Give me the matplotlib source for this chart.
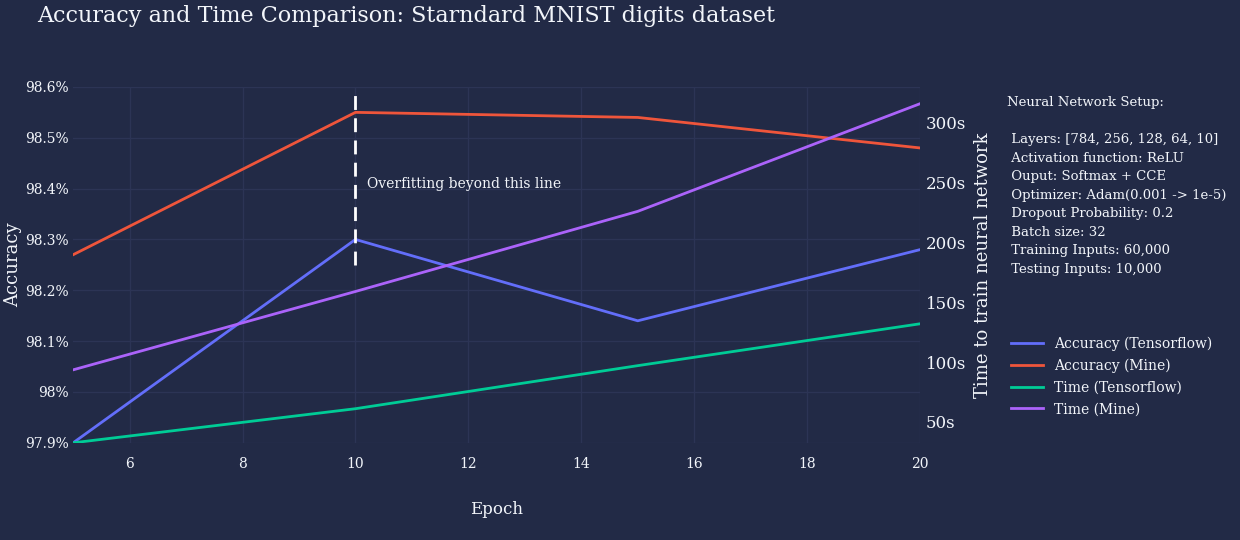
import matplotlib.pyplot as plt

epochs = [5, 10, 15, 20]
acc_tf = [97.90, 98.30, 98.14, 98.28]
acc_mine = [98.27, 98.55, 98.54, 98.48]
time_tf = [32.5, 61, 97, 132]
time_mine = [93.5, 159, 226, 316]

bg = '#222a46'
grid = '#2c3455'
txt = '#f2f5fa'
c1, c2, c3, c4 = '#636efa', '#ef553b', '#00cc96', '#ab63fa'
plt.rcParams['font.family'] = ['DejaVu Serif']

fig = plt.figure(figsize=(12.4, 5.4), dpi=100, facecolor=bg)
ax = fig.add_axes([0.059, 0.18, 0.683, 0.659], facecolor=bg)
ax2 = ax.twinx()

l1, = ax.plot(epochs, acc_tf, color=c1, lw=2)
l2, = ax.plot(epochs, acc_mine, color=c2, lw=2)
l3, = ax2.plot(epochs, time_tf, color=c3, lw=2)
l4, = ax2.plot(epochs, time_mine, color=c4, lw=2)

ax.set_xlim(5, 20)
ax.set_ylim(97.9, 98.6)
ax2.set_ylim(32.5, 330)
ax.set_xticks([6, 8, 10, 12, 14, 16, 18, 20])
yt = [97.9, 98.0, 98.1, 98.2, 98.3, 98.4, 98.5, 98.6]
ax.set_yticks(yt)
ax.set_yticklabels([f"{v:g}%" for v in yt])
rt = [50, 100, 150, 200, 250, 300]
ax2.set_yticks(rt)
ax2.set_yticklabels([f"{v}s" for v in rt])
ax.grid(True, color=grid, lw=1)
for a in (ax, ax2):
    for s in a.spines.values():
        s.set_visible(False)
    a.tick_params(colors=txt, length=0, labelsize=10)
ax2.tick_params(labelsize=12, pad=4)
ax.tick_params(axis='x', pad=10)
ax.tick_params(axis='y', pad=3)

ax.plot([10, 10], [98.25, 98.584], color='white', lw=2, ls=(0, (5, 3)))
ax.text(10.2, 98.41, 'Overfitting beyond this line', color=txt, fontsize=10, va='center')

ax.set_xlabel('Epoch', color=txt, fontsize=12, labelpad=22)
ax.set_ylabel('Accuracy', color=txt, fontsize=13, labelpad=2)
ax2.set_ylabel('Time to train neural network', color=txt, fontsize=13, labelpad=6)

fig.text(0.03, 0.97, 'Accuracy and Time Comparison: Starndard MNIST digits dataset',
         color=txt, fontsize=16, va='center')

setup = ("Neural Network Setup:\n\n"
         " Layers: [784, 256, 128, 64, 10]\n"
         " Activation function: ReLU\n"
         " Ouput: Softmax + CCE\n"
         " Optimizer: Adam(0.001 -> 1e-5)\n"
         " Dropout Probability: 0.2\n"
         " Batch size: 32\n"
         " Training Inputs: 60,000\n"
         " Testing Inputs: 10,000")
fig.text(0.812, 0.822, setup, color=txt, fontsize=9.5, va='top', linespacing=1.55)

handles = [l1, l2, l3, l4]
labels = ['Accuracy (Tensorflow)', 'Accuracy (Mine)', 'Time (Tensorflow)', 'Time (Mine)']
fig.legend(handles, labels, loc='upper left', bbox_to_anchor=(0.805, 0.4),
           frameon=False, fontsize=10, labelcolor=txt, handlelength=2.3,
           labelspacing=0.55)

fig.savefig('out.png', facecolor=bg)
